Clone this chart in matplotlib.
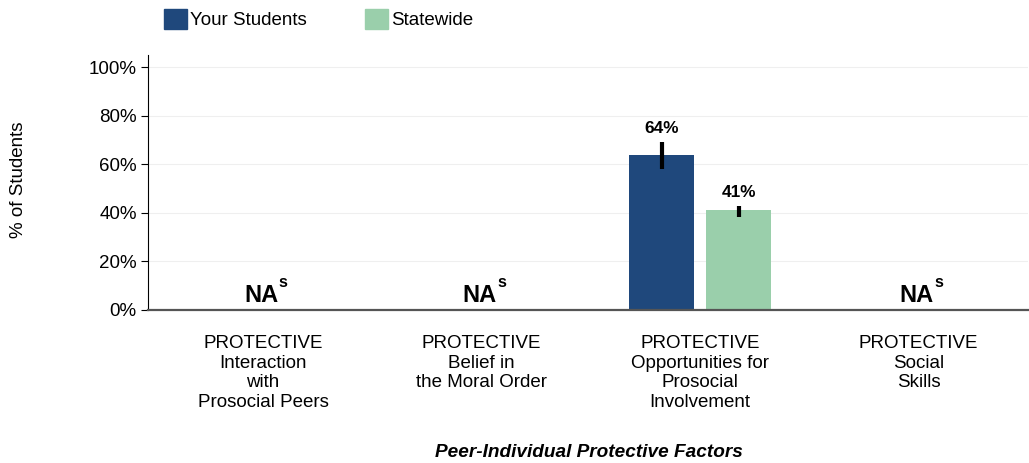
import matplotlib.pyplot as plt
from matplotlib.patches import Patch

plt.rcParams['font.family'] = ['Liberation Sans', 'DejaVu Sans']

categories = ["PROTECTIVE\nInteraction\nwith\nProsocial Peers",
              "PROTECTIVE\nBelief in\nthe Moral Order",
              "PROTECTIVE\nOpportunities for\nProsocial\nInvolvement",
              "PROTECTIVE\nSocial\nSkills"]
your_students = [None, None, 64, None]
statewide = [None, None, 41, None]
your_err_lo = [None, None, 58, None]
your_err_hi = [None, None, 69, None]
state_err_lo = [None, None, 38.5, None]
state_err_hi = [None, None, 43, None]
na_label = "NA"

c_your = '#1f487c'
c_state = '#9acfab'

fig = plt.figure(figsize=(10.29, 4.63), dpi=100)
ax = fig.add_axes([0.1438, 0.3305, 0.8552, 0.5505])

bw = 0.297
off = 0.176
for i in range(len(categories)):
    if your_students[i] is None:
        # NA with superscript s
        ax.text(i + 0.069, 3.3, na_label, ha='right', va='baseline', fontsize=17,
                fontweight='bold')
        ax.annotate("s", (i + 0.069, 3.3), xytext=(0.5, 11), textcoords='offset points',
                    ha='left', va='baseline', fontsize=11.5, fontweight='bold')
        continue
    ax.bar(i - off, your_students[i], bw, color=c_your, zorder=2)
    ax.bar(i + off, statewide[i], bw, color=c_state, zorder=2)
    ax.vlines(i - off, your_err_lo[i], your_err_hi[i], color='black', lw=3, zorder=3)
    ax.vlines(i + off, state_err_lo[i], state_err_hi[i], color='black', lw=3, zorder=3)
    ax.text(i - off, your_err_hi[i] + 2.5, "%d%%" % your_students[i], ha='center',
            va='bottom', fontsize=12.4, fontweight='bold')
    ax.text(i + off, state_err_hi[i] + 2.5, "%d%%" % statewide[i], ha='center',
            va='bottom', fontsize=12.4, fontweight='bold')

ax.set_xlim(-0.526, 3.5)
ax.set_ylim(0, 105)
ax.set_yticks(range(0, 101, 20))
ax.set_yticklabels(["%d%%" % v for v in range(0, 101, 20)], fontsize=13.5)
ax.yaxis.grid(True, color='#efefef', lw=0.8, zorder=0)
ax.set_axisbelow(True)
ax.tick_params(axis='y', direction='out', length=5, width=0.8, pad=3)
ax.set_xticks(range(len(categories)))
ax.set_xticklabels(categories, fontsize=13.5, linespacing=1.21, va='top')
ax.tick_params(axis='x', length=0, pad=18)
for s in ['top', 'right']:
    ax.spines[s].set_visible(False)
ax.spines['left'].set_linewidth(0.8)
ax.spines['bottom'].set_color('#555555')
ax.spines['bottom'].set_linewidth(1.6)

fig.text(0.0175, 0.611, "% of Students", rotation=90, ha='center', va='center',
         fontsize=13.5)
fig.text(0.5725, 0.0216, "Peer-Individual Protective Factors", ha='center',
         va='center', fontsize=13.7, fontweight='bold', style='italic')

handles = [Patch(color=c_your, label="Your Students"),
           Patch(color=c_state, label="Statewide")]
fig.legend(handles=handles, loc='upper left', bbox_to_anchor=(0.143, 1.016),
           ncol=2, frameon=False, fontsize=13.5, handlelength=1.2, handleheight=1.2,
           handletextpad=0.2, columnspacing=3.1)

fig.savefig("out.png")
